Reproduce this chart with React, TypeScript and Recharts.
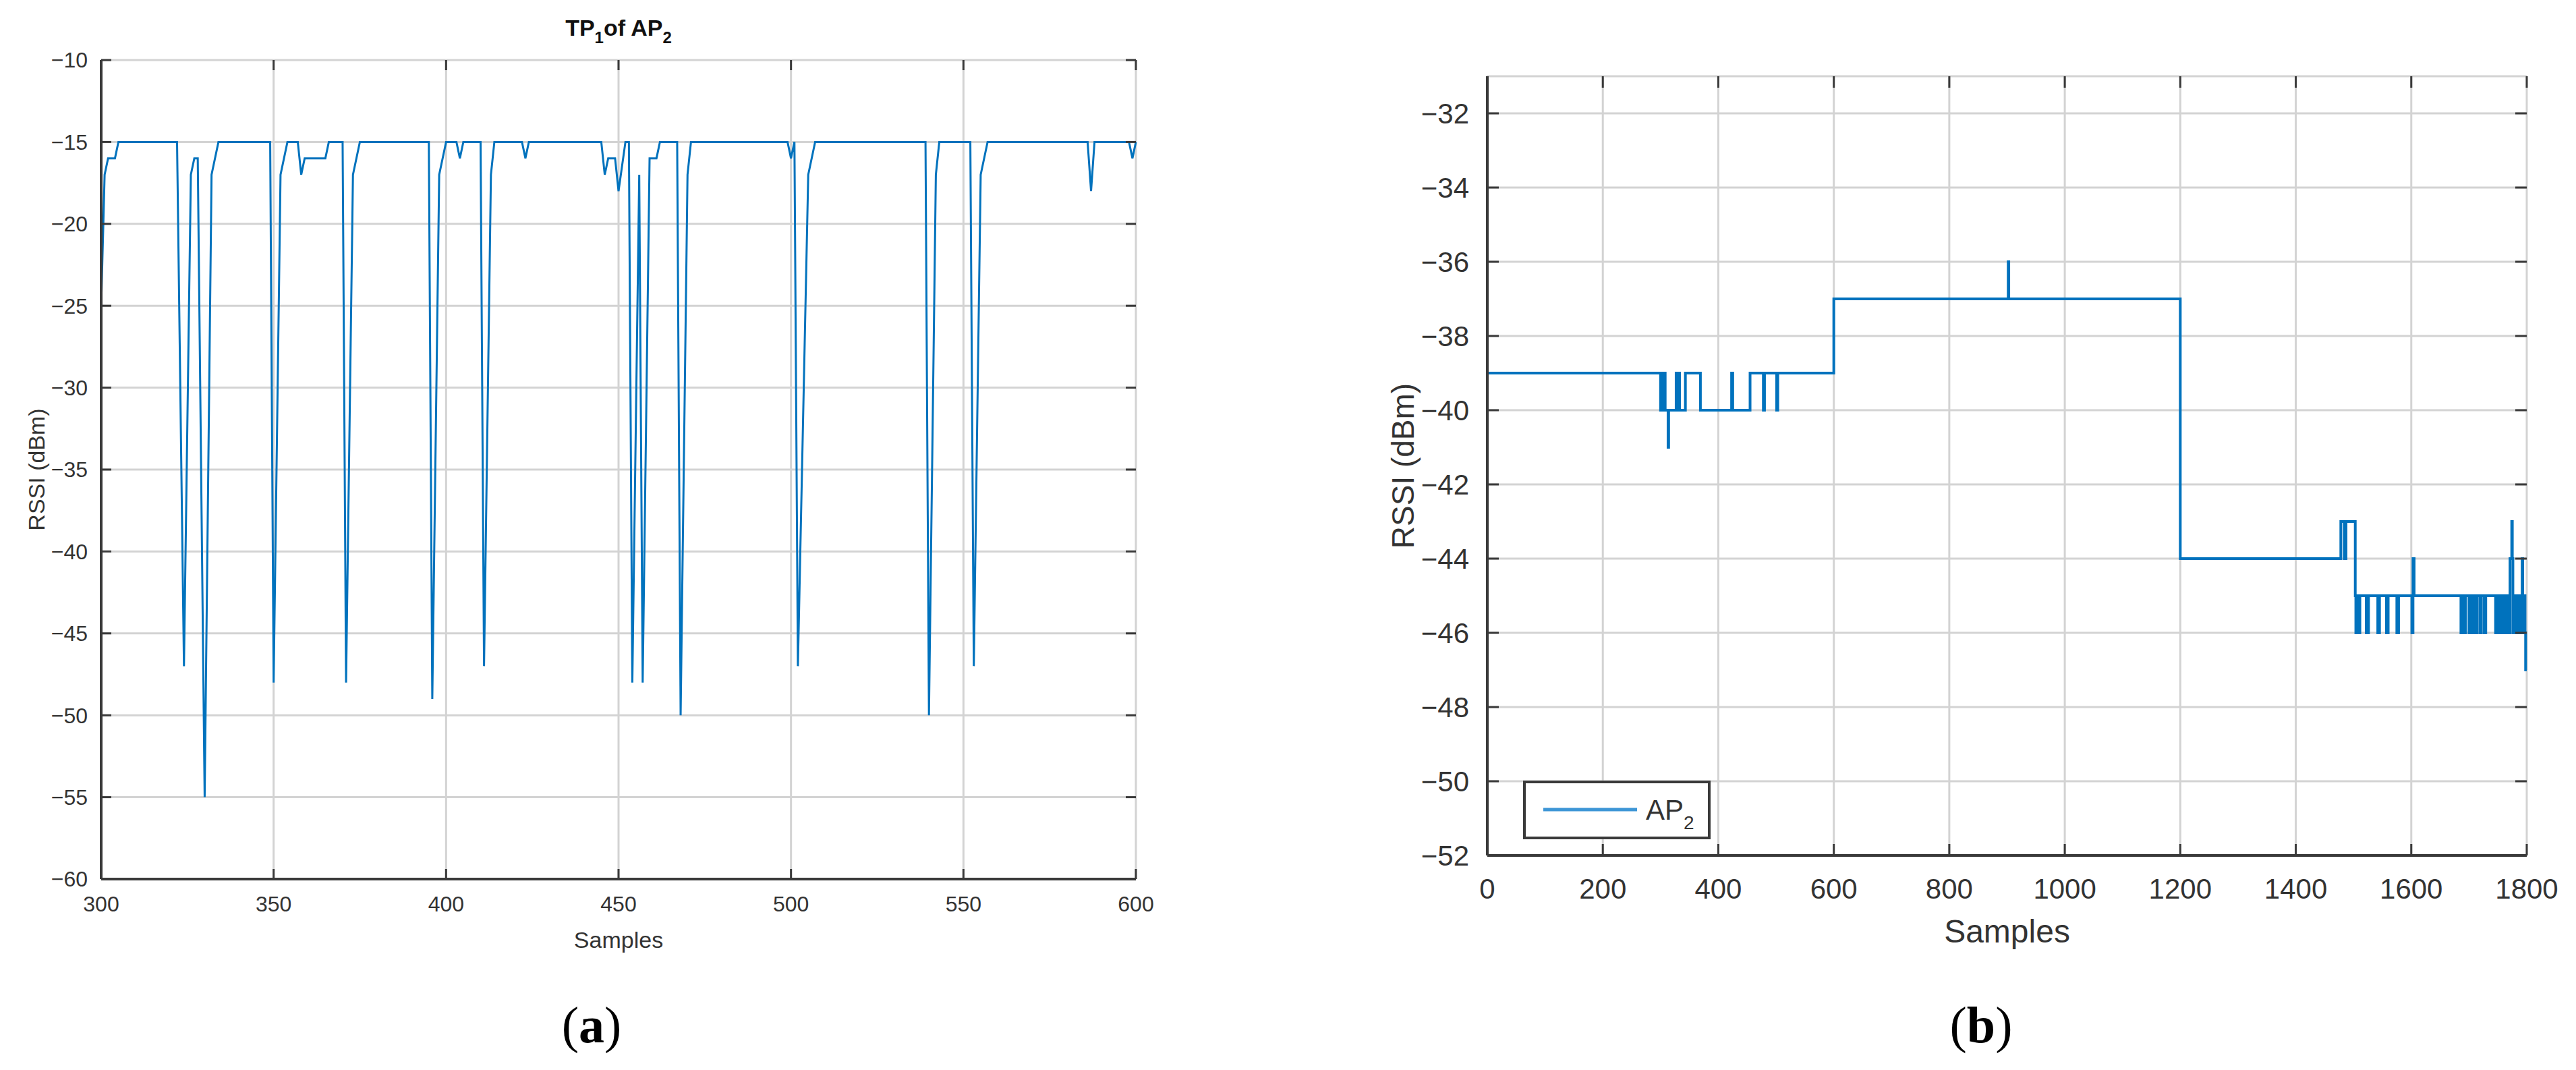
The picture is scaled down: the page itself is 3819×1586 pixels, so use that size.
import { CartesianGrid, Legend, Line, LineChart, XAxis, YAxis } from "recharts";

// (a) TP1 of AP2: line vertices (sample, RSSI dBm)
const aSamples = [
  300, 301, 302, 304, 305,
  322, 324, 326, 327, 328, 330, 332, 334,
  349, 350, 352, 354, 357, 358, 359, 365, 366, 370, 371, 373, 375,
  395, 396, 398, 400, 403, 404, 405, 410, 411, 413, 414, 422, 423, 424,
  445, 446, 447, 449, 450, 452, 453, 454, 456, 457, 459, 461, 462, 467, 468, 470, 471,
  499, 500, 501, 502, 505, 507, 539, 540, 542, 543, 552, 553, 555, 557,
  586, 587, 588, 598, 599, 600,
];
const aRssi = [
  -25, -17, -16, -16, -15,
  -15, -47, -17, -16, -16, -55, -17, -15,
  -15, -48, -17, -15, -15, -17, -16, -16, -15, -15, -48, -17, -15,
  -15, -49, -17, -15, -15, -16, -15, -15, -47, -17, -15, -15, -16, -15,
  -15, -17, -16, -16, -18, -15, -15, -48, -17, -48, -16, -16, -15, -15, -50, -17, -15,
  -15, -16, -15, -47, -17, -15, -15, -50, -17, -15, -15, -47, -17, -15,
  -15, -18, -15, -15, -16, -15,
];
const aXTicks = [300, 350, 400, 450, 500, 550, 600];
const aYTicks = [-60, -55, -50, -45, -40, -35, -30, -25, -20, -15, -10];

// (b) AP2: level changes (sample where the RSSI steps to the new value)
const bSamples = [
  0, 300, 302, 304, 306, 308, 313, 314, 327, 329, 331, 333, 343, 369, 423, 425, 455, 478, 480, 501, 503,
  600, 902, 903, 1200,
  1478, 1484, 1487, 1503, 1504, 1506, 1508, 1511, 1522, 1526, 1542, 1545, 1557, 1560, 1575, 1578, 1601, 1603, 1605,
  1686, 1688, 1692, 1694, 1700, 1702, 1706, 1708, 1712, 1714, 1719, 1721, 1726, 1729,
  1746, 1748, 1750, 1752, 1754, 1755, 1757, 1759, 1761, 1763, 1765, 1767, 1769,
  1771, 1774, 1775, 1776, 1778, 1780, 1782, 1784, 1786, 1788, 1790, 1792, 1793, 1795, 1797, 1798, 1800,
];
const bRssi = [
  -39, -40, -39, -40, -39, -40, -41, -40, -39, -40, -39, -40, -39, -40, -39, -40, -39, -40, -39, -40, -39,
  -37, -36, -37, -44,
  -43, -44, -43, -45, -46, -45, -46, -45, -46, -45, -46, -45, -46, -45, -46, -45, -46, -44, -45,
  -46, -45, -46, -45, -46, -45, -46, -45, -46, -45, -46, -45, -46, -45,
  -46, -45, -46, -45, -46, -45, -46, -45, -46, -45, -46, -45, -46,
  -44, -43, -44, -46, -45, -46, -45, -46, -45, -46, -45, -44, -46, -45, -46, -47, -47,
];
const bXTicks = [0, 200, 400, 600, 800, 1000, 1200, 1400, 1600, 1800];
const bYTicks = [-52, -50, -48, -46, -44, -42, -40, -38, -36, -34, -32];

const aData = aSamples.map((sample, i) => ({ sample, rssi: aRssi[i] }));
const bData = bSamples.map((sample, i) => ({ sample, rssi: bRssi[i] }));

const FONT = '"Liberation Sans", Arial, Helvetica, sans-serif';
const LINE_BLUE = "#0072bd";
const BOX = "#3a3a3a";
const GRID = "#d3d3d3";
const TEXT = "#333333";

type Frame = { left: number; right: number; top: number; bottom: number };

// plot frames in each chart's own coordinates
const A: Frame = { left: 150, right: 1684, top: 89, bottom: 1303 };
const B: Frame = { left: 205, right: 1746, top: 113, bottom: 1268 };

const fmt = (v: number) => String(v).replace("-", "\u2212");

// MATLAB style: ticks point inwards, on all four sides of the box
function xTick(f: Frame, len: number, fontSize: number) {
  return (p: any) => (
    <g>
      <line x1={p.x} x2={p.x} y1={f.bottom} y2={f.bottom - len} stroke={BOX} strokeWidth={3} />
      <line x1={p.x} x2={p.x} y1={f.top} y2={f.top + len} stroke={BOX} strokeWidth={3} />
      <text x={p.x} y={p.y} dy="0.71em" textAnchor="middle" fontSize={fontSize} fill={TEXT}>
        {fmt(p.payload.value)}
      </text>
    </g>
  );
}

function yTick(f: Frame, len: number, fontSize: number) {
  return (p: any) => (
    <g>
      <line x1={f.left} x2={f.left + len} y1={p.y} y2={p.y} stroke={BOX} strokeWidth={3} />
      <line x1={f.right} x2={f.right - len} y1={p.y} y2={p.y} stroke={BOX} strokeWidth={3} />
      <text x={p.x} y={p.y} dy="0.355em" textAnchor="end" fontSize={fontSize} fill={TEXT}>
        {fmt(p.payload.value)}
      </text>
    </g>
  );
}

function ChartA() {
  const w = 1760;
  const h = 1586;
  return (
    <LineChart
      width={w}
      height={h}
      data={aData}
      margin={{ top: A.top, left: A.left - 120, right: w - A.right, bottom: h - A.bottom - 120 }}
    >
      <CartesianGrid stroke={GRID} strokeWidth={3} />
      <XAxis
        dataKey="sample"
        type="number"
        domain={[300, 600]}
        ticks={aXTicks}
        interval={0}
        height={120}
        tickSize={0}
        tickMargin={25}
        tickLine={false}
        axisLine={{ stroke: BOX, strokeWidth: 4 }}
        tick={xTick(A, 15, 32)}
        label={{ value: "Samples", position: "insideTop", offset: 78, fontSize: 34, fill: TEXT }}
      />
      <XAxis xAxisId="top" orientation="top" type="number" domain={[300, 600]} height={0} tick={false} tickLine={false} axisLine={{ stroke: BOX, strokeWidth: 4 }} />
      <YAxis
        type="number"
        domain={[-60, -10]}
        ticks={aYTicks}
        interval={0}
        width={120}
        tickSize={0}
        tickMargin={20}
        tickLine={false}
        axisLine={{ stroke: BOX, strokeWidth: 4 }}
        tick={yTick(A, 15, 32)}
        label={{ value: "RSSI (dBm)", angle: -90, position: "insideLeft", offset: 24, fontSize: 34, fill: TEXT, style: { textAnchor: "middle" } }}
      />
      <YAxis yAxisId="right" orientation="right" type="number" domain={[-60, -10]} width={0} tick={false} tickLine={false} axisLine={{ stroke: BOX, strokeWidth: 4 }} />
      <Line dataKey="rssi" type="linear" stroke={LINE_BLUE} strokeWidth={3} dot={false} isAnimationActive={false} />
    </LineChart>
  );
}

function LegendBox() {
  return (
    <svg width={278} height={87} style={{ display: "block" }}>
      <rect x={2} y={2} width={274} height={83} fill="#ffffff" stroke={BOX} strokeWidth={4} />
      <line x1={30} x2={169} y1={43} y2={43} stroke="#3d96d6" strokeWidth={5} />
      <text x={182} y={58} fontSize={42} fill={TEXT}>
        AP
        <tspan fontSize={28} dy={14}>2</tspan>
      </text>
    </svg>
  );
}

function ChartB() {
  const w = 1819;
  const h = 1586;
  return (
    <LineChart
      width={w}
      height={h}
      data={bData}
      margin={{ top: B.top, left: B.left - 150, right: w - B.right, bottom: h - B.bottom - 120 }}
    >
      <CartesianGrid stroke={GRID} strokeWidth={3} />
      <XAxis
        dataKey="sample"
        type="number"
        domain={[0, 1800]}
        ticks={bXTicks}
        interval={0}
        height={120}
        tickSize={0}
        tickMargin={34}
        tickLine={false}
        axisLine={{ stroke: BOX, strokeWidth: 4 }}
        tick={xTick(B, 17, 42)}
        label={{ value: "Samples", position: "insideTop", offset: 95, fontSize: 48, fill: TEXT }}
      />
      <XAxis xAxisId="top" orientation="top" type="number" domain={[0, 1800]} height={0} tick={false} tickLine={false} axisLine={{ stroke: BOX, strokeWidth: 4 }} />
      <YAxis
        type="number"
        domain={[-52, -31]}
        ticks={bYTicks}
        interval={0}
        width={150}
        tickSize={0}
        tickMargin={27}
        tickLine={false}
        axisLine={{ stroke: BOX, strokeWidth: 4 }}
        tick={yTick(B, 17, 42)}
        label={{ value: "RSSI (dBm)", angle: -90, position: "insideLeft", offset: 25, fontSize: 46, fill: TEXT, style: { textAnchor: "middle" } }}
      />
      <YAxis yAxisId="right" orientation="right" type="number" domain={[-52, -31]} width={0} tick={false} tickLine={false} axisLine={{ stroke: BOX, strokeWidth: 4 }} />
      <Legend
        layout="horizontal"
        align="center"
        verticalAlign="middle"
        content={() => <LegendBox />}
        wrapperStyle={{ left: 258, top: 1157, width: 278, height: 87 }}
      />
      <Line dataKey="rssi" name="AP2" type="stepAfter" stroke={LINE_BLUE} strokeWidth={4} dot={false} isAnimationActive={false} />
    </LineChart>
  );
}

export default function App() {
  return (
    <div style={{ position: "relative", width: 3819, height: 1586, background: "#ffffff", fontFamily: FONT, overflow: "hidden" }}>
      <style>{"body{margin:0}"}</style>
      <div style={{ position: "absolute", left: 0, top: 0 }}>
        <ChartA />
      </div>
      <div style={{ position: "absolute", left: 2000, top: 0 }}>
        <ChartB />
      </div>
      <svg width={3819} height={1586} style={{ position: "absolute", left: 0, top: 0, pointerEvents: "none" }}>
        <text x={917} y={53} textAnchor="middle" fontSize={34} fontWeight="bold" fill="#111111" fontFamily={FONT}>
          TP
          <tspan fontSize={24} dy={11}>1</tspan>
          <tspan dy={-11}>of AP</tspan>
          <tspan fontSize={24} dy={11}>2</tspan>
        </text>
        <text x={877} y={1545} textAnchor="middle" fontSize={76} fill="#000000" fontFamily='"Liberation Serif", "Times New Roman", serif'>
          (<tspan fontWeight="bold">a</tspan>)
        </text>
        <text x={2937} y={1545} textAnchor="middle" fontSize={76} fill="#000000" fontFamily='"Liberation Serif", "Times New Roman", serif'>
          (<tspan fontWeight="bold">b</tspan>)
        </text>
      </svg>
    </div>
  );
}
